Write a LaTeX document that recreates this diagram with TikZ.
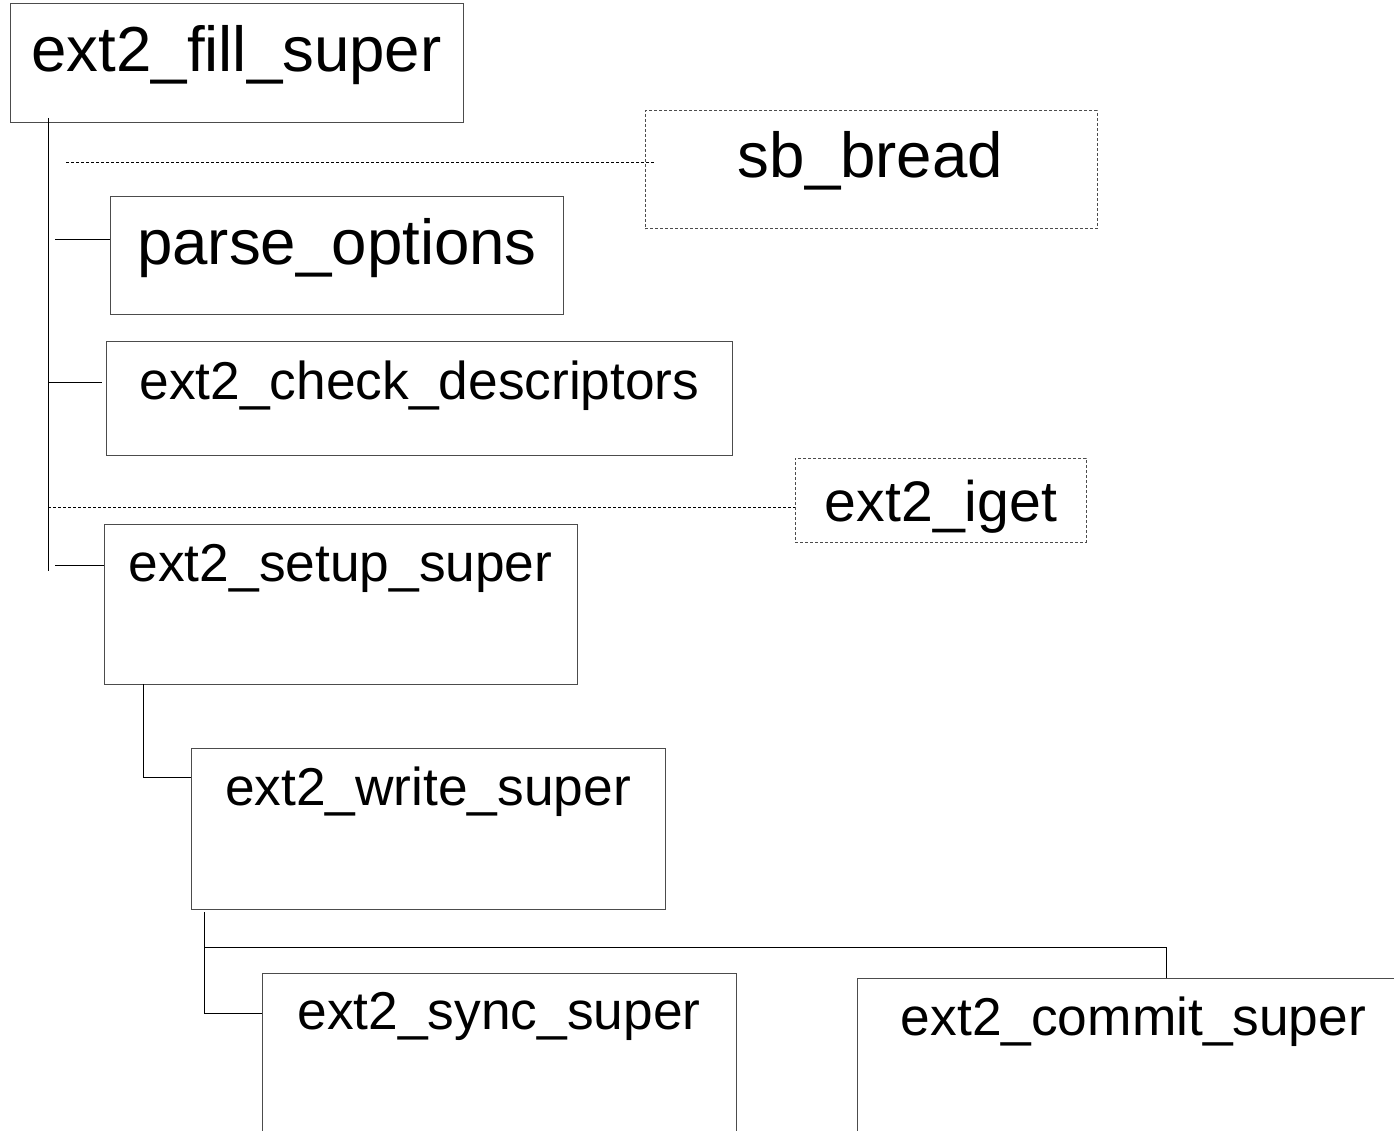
\documentclass[tikz,border=0pt]{standalone}
\usepackage{fontspec}
\setmainfont{Liberation Sans}
\begin{document}
\begin{tikzpicture}[x=1pt,y=-1pt,
  boxstyle/.style={draw=black!70, line width=1pt, rectangle, inner sep=0pt},
  dashbox/.style={boxstyle, dash pattern=on 3pt off 2pt},
  conn/.style={draw=black, line width=1pt},
  dconn/.style={conn, dash pattern=on 3pt off 2pt},
  big/.style={anchor=base, inner sep=0pt, font=\fontsize{63.6pt}{70pt}\selectfont},
  mid/.style={anchor=base, inner sep=0pt, font=\fontsize{57.2pt}{64pt}\selectfont},
  small/.style={anchor=base, inner sep=0pt, font=\fontsize{53.3pt}{60pt}\selectfont}]
\useasboundingbox (0,0) rectangle (1394,1131);
\clip (0,0) rectangle (1394,1131);
\fill[white] (0,0) rectangle (1394,1131);

% boxes
\node[boxstyle, minimum width=453pt, minimum height=119pt] (fill) at (236.5,63.5) {};
\node[dashbox, minimum width=452pt, minimum height=118pt] (bread) at (871,170) {};
\node[boxstyle, minimum width=453pt, minimum height=118pt] (parse) at (336.5,256) {};
\node[boxstyle, minimum width=626pt, minimum height=113pt] (check) at (419,398.5) {};
\node[dashbox, minimum width=291pt, minimum height=84pt] (iget) at (940.5,500) {};
\node[boxstyle, minimum width=473pt, minimum height=160pt] (setup) at (340.5,604) {};
\node[boxstyle, minimum width=474pt, minimum height=161pt] (write) at (428,828.5) {};
\node[boxstyle, minimum width=474pt, minimum height=200pt] (sync) at (499,1073) {};
\node[boxstyle, minimum width=553pt, minimum height=200pt] (commit) at (1133.5,1078) {};

% labels
\node[big] (tfill) at (236.5,72) {ext2\_fill\_super};
\node[big] (tbread) at (870.5,178) {sb\_bread};
\node[big] (tparse) at (337,265) {parse\_options};
\node[small] (tcheck) at (419.5,399) {ext2\_check\_descriptors};
\node[mid] (tiget) at (941,521) {ext2\_iget};
\node[small] (tsetup) at (340.5,581.5) {ext2\_setup\_super};
\node[small] (twrite) at (428,805.5) {ext2\_write\_super};
\node[small] (tsync) at (499,1029.5) {ext2\_sync\_super};
\node[small] (tcommit) at (1133.5,1035) {ext2\_commit\_super};

% connector points
\coordinate (trunkTop) at (48,118);
\coordinate (trunkBot) at (48,571);
\coordinate (breadStart) at (66,163);
\coordinate (breadEnd) at (655,163);
\coordinate (parseStart) at (55,240);
\coordinate (checkStart) at (48,382);
\coordinate (igetStart) at (48,507);
\coordinate (setupStart) at (55,565);
\coordinate (setupOut) at (143,684);
\coordinate (writeOut) at (204,912);
\coordinate (commitIn) at (1166,947);

% connectors
\draw[conn] (trunkTop) -- (trunkBot);
\draw[dconn] (breadStart) -- (breadEnd);
\draw[conn] (parseStart) -- (parse.west |- parseStart);
\draw[conn] (checkStart) -- ([xshift=-4pt]check.west |- checkStart);
\draw[dconn] (igetStart) -- (iget.west |- igetStart);
\draw[conn] (setupStart) -- (setup.west |- setupStart);
\draw[conn] (setupOut) |- (write.west |- 0,777);
\draw[conn] (writeOut) |- (sync.west |- 0,1013);
\draw[conn] (writeOut |- commitIn) -- (commitIn) -- (commitIn |- commit.north);
\end{tikzpicture}
\end{document}
